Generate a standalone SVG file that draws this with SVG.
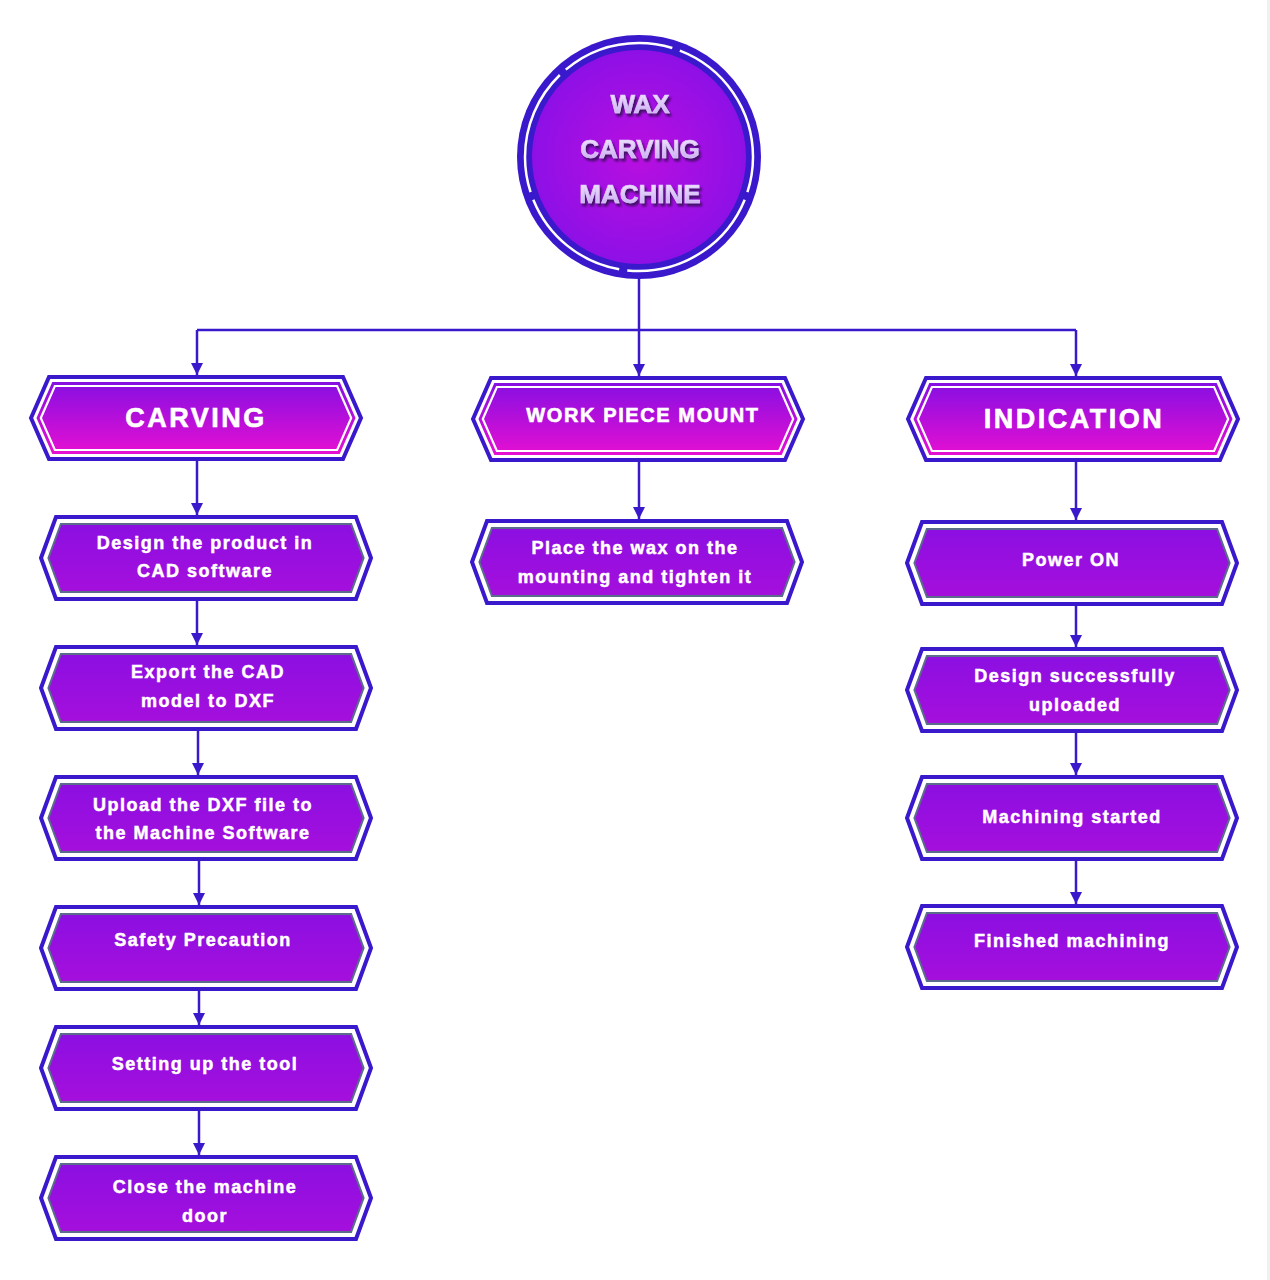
<svg xmlns="http://www.w3.org/2000/svg" xmlns:xlink="http://www.w3.org/1999/xlink" width="1270" height="1280" viewBox="0 0 1270 1280">
<style>
.conn{fill:none;stroke:#3a18cc;stroke-width:2.5}
.hdr{font-family:"Liberation Sans",Arial,sans-serif;font-weight:bold;fill:#ffffff;stroke:#ffffff;stroke-width:0.6;text-anchor:middle}
.step{font-family:"Liberation Sans",Arial,sans-serif;font-weight:bold;font-size:18px;letter-spacing:1.5px;fill:#ffffff;stroke:#ffffff;stroke-width:0.5;text-anchor:middle}
.title{font-family:"Liberation Sans",Arial,sans-serif;font-weight:bold;font-size:26px;fill:url(#titleGrad);stroke:#dcc8fa;stroke-width:0.7;text-anchor:middle;filter:url(#shadow)}
</style>
<defs>
<linearGradient id="hdrGrad" x1="0" y1="0" x2="0" y2="1">
<stop offset="0" stop-color="#860fe2"/>
<stop offset="1" stop-color="#e60fd2"/>
</linearGradient>
<linearGradient id="stepGrad" x1="0" y1="0" x2="0" y2="1">
<stop offset="0" stop-color="#8c0fe2"/>
<stop offset="1" stop-color="#a50fdc"/>
</linearGradient>
<radialGradient id="circGrad" cx="0.5" cy="0.5" r="0.5">
<stop offset="0" stop-color="#b80fe0"/>
<stop offset="1" stop-color="#8e10e6"/>
</radialGradient>
<linearGradient id="titleGrad" x1="0" y1="0" x2="0" y2="1">
<stop offset="0" stop-color="#f6eeff"/>
<stop offset="1" stop-color="#c4a2f2"/>
</linearGradient>
<filter id="shadow" x="-20%" y="-30%" width="140%" height="170%">
<feDropShadow dx="2" dy="3" stdDeviation="1.2" flood-color="#2e0850" flood-opacity="0.85"/>
</filter>
<marker id="arrow" markerUnits="userSpaceOnUse" markerWidth="12" markerHeight="12" refX="10" refY="5" viewBox="0 0 10 10" orient="auto">
<path d="M0,0 L10,5 L0,10 Z" fill="#3a18cc"/>
</marker>
<g id="hdrShape">
<polygon points="0,41 18,0 312,0 330,41 312,82 18,82" fill="#ffffff" stroke="#3a18cc" stroke-width="4" stroke-linejoin="miter"/>
<polygon points="5.5,41 21.3,5 308.7,5 324.5,41 308.7,77 21.3,77" fill="url(#hdrGrad)"/>
<polygon points="9.8,41 23.9,9 306.1,9 320.2,41 306.1,73 23.9,73" fill="none" stroke="#ffffff" stroke-width="2.2"/>
</g>
<g id="stepShape">
<polygon points="0,41 15,0 315,0 330,41 315,82 15,82" fill="#ffffff" stroke="#3a18cc" stroke-width="4"/>
<polygon points="7.4,41 19.9,7 310.1,7 322.6,41 310.1,75 19.9,75" fill="url(#stepGrad)" stroke="#5a6b8c" stroke-width="2"/>
</g>
</defs>
<rect x="0" y="0" width="1270" height="1280" fill="#ffffff"/>
<rect x="1267" y="0" width="3" height="1280" fill="#f0f0f2"/>

<g id="connectors">
<line class="conn" x1="639" y1="278" x2="639" y2="330"/>
<line class="conn" x1="197" y1="330" x2="1076" y2="330"/>
<line class="conn" x1="197" y1="330" x2="197" y2="375" marker-end="url(#arrow)"/>
<line class="conn" x1="639" y1="330" x2="639" y2="376" marker-end="url(#arrow)"/>
<line class="conn" x1="1076" y1="330" x2="1076" y2="376" marker-end="url(#arrow)"/>
<line class="conn" x1="197" y1="460" x2="197" y2="515" marker-end="url(#arrow)"/>
<line class="conn" x1="197" y1="600" x2="197" y2="645" marker-end="url(#arrow)"/>
<line class="conn" x1="198" y1="730" x2="198" y2="775" marker-end="url(#arrow)"/>
<line class="conn" x1="199" y1="860" x2="199" y2="905" marker-end="url(#arrow)"/>
<line class="conn" x1="199" y1="990" x2="199" y2="1025" marker-end="url(#arrow)"/>
<line class="conn" x1="199" y1="1110" x2="199" y2="1155" marker-end="url(#arrow)"/>
<line class="conn" x1="639" y1="461" x2="639" y2="519" marker-end="url(#arrow)"/>
<line class="conn" x1="1076" y1="461" x2="1076" y2="520" marker-end="url(#arrow)"/>
<line class="conn" x1="1076" y1="605" x2="1076" y2="647" marker-end="url(#arrow)"/>
<line class="conn" x1="1076" y1="732" x2="1076" y2="775" marker-end="url(#arrow)"/>
<line class="conn" x1="1076" y1="860" x2="1076" y2="904" marker-end="url(#arrow)"/>
</g>

<g id="node-root">
<circle cx="639" cy="157" r="122" fill="#3a18cc"/>
<circle cx="639" cy="157" r="107" fill="url(#circGrad)"/>
<circle cx="639" cy="157" r="114" fill="none" stroke="#ffffff" stroke-width="2.5" pathLength="360" stroke-dasharray="18 4 74 4 58 4 64 4 57 4 69"/>
<text class="title" x="640" y="113">WAX</text>
<text class="title" x="640" y="158">CARVING</text>
<text class="title" x="640" y="203">MACHINE</text>
</g>

<g id="node-carving">
<use xlink:href="#hdrShape" x="31" y="377"/>
<text class="hdr" x="196" y="427" font-size="27" letter-spacing="2.5">CARVING</text>
</g>
<g id="node-workpiece">
<use xlink:href="#hdrShape" x="473" y="378"/>
<text class="hdr" x="643" y="422" font-size="20" letter-spacing="1.6">WORK PIECE MOUNT</text>
</g>
<g id="node-indication">
<use xlink:href="#hdrShape" x="908" y="378"/>
<text class="hdr" x="1074" y="428" font-size="27" letter-spacing="2.5">INDICATION</text>
</g>

<g id="node-design">
<use xlink:href="#stepShape" x="41" y="517"/>
<text class="step" x="205" y="549">Design the product in</text>
<text class="step" x="205" y="577">CAD software</text>
</g>
<g id="node-export">
<use xlink:href="#stepShape" x="41" y="647"/>
<text class="step" x="208" y="678">Export the CAD</text>
<text class="step" x="208" y="707">model to DXF</text>
</g>
<g id="node-upload">
<use xlink:href="#stepShape" x="41" y="777"/>
<text class="step" x="203" y="811">Upload the DXF file to</text>
<text class="step" x="203" y="839">the Machine Software</text>
</g>
<g id="node-safety">
<use xlink:href="#stepShape" x="41" y="907"/>
<text class="step" x="203" y="946">Safety Precaution</text>
</g>
<g id="node-setting">
<use xlink:href="#stepShape" x="41" y="1027"/>
<text class="step" x="205" y="1070">Setting up the tool</text>
</g>
<g id="node-close">
<use xlink:href="#stepShape" x="41" y="1157"/>
<text class="step" x="205" y="1193">Close the machine</text>
<text class="step" x="205" y="1222">door</text>
</g>

<g id="node-place">
<use xlink:href="#stepShape" x="472" y="521"/>
<text class="step" x="635" y="554">Place the wax on the</text>
<text class="step" x="635" y="583">mounting and tighten it</text>
</g>

<g id="node-power">
<use xlink:href="#stepShape" x="907" y="522"/>
<text class="step" x="1071" y="566">Power ON</text>
</g>
<g id="node-uploaded">
<use xlink:href="#stepShape" x="907" y="649"/>
<text class="step" x="1075" y="682">Design successfully</text>
<text class="step" x="1075" y="711">uploaded</text>
</g>
<g id="node-started">
<use xlink:href="#stepShape" x="907" y="777"/>
<text class="step" x="1072" y="823">Machining started</text>
</g>
<g id="node-finished">
<use xlink:href="#stepShape" x="907" y="906"/>
<text class="step" x="1072" y="947">Finished machining</text>
</g>
</svg>
